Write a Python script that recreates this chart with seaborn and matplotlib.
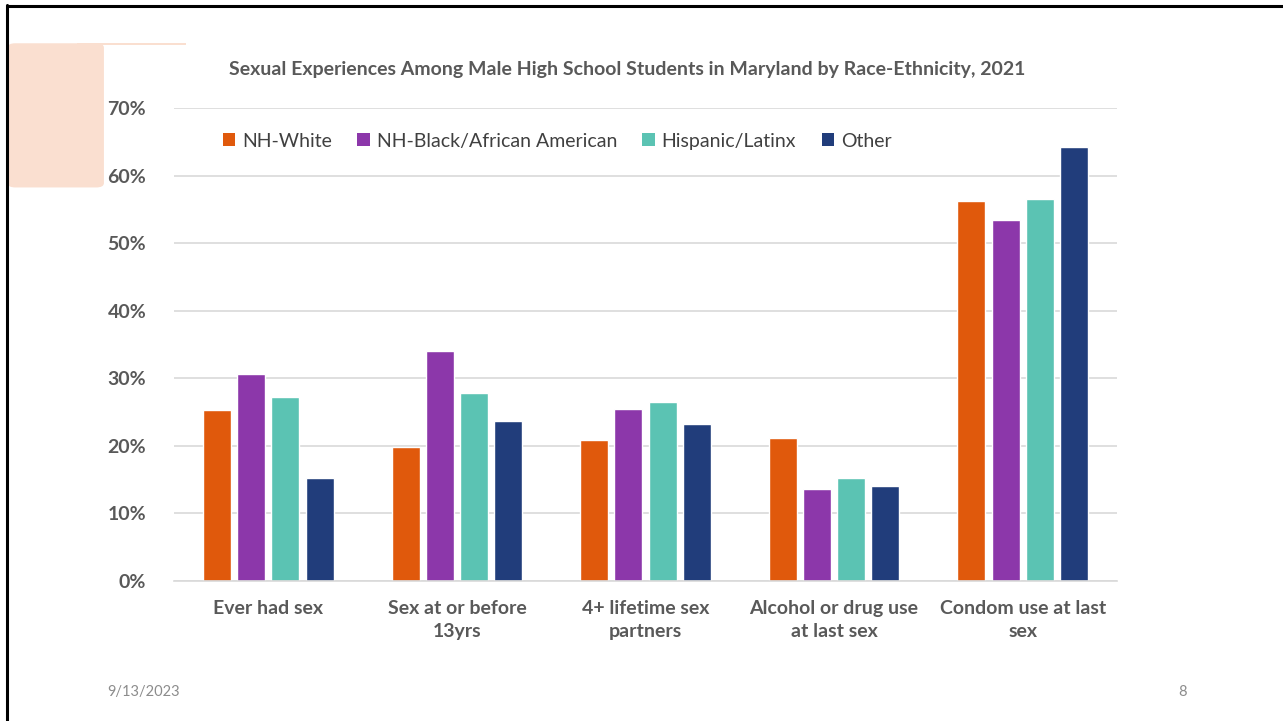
import matplotlib
matplotlib.use("Agg")
import matplotlib.pyplot as plt
import matplotlib.patches as mpatches
from matplotlib.lines import Line2D
import seaborn as sns
import pandas as pd

categories = ["Ever had sex", "Sex at or before\n13yrs", "4+ lifetime sex\npartners",
              "Alcohol or drug use\nat last sex", "Condom use at last\nsex"]
groups = ["NH-White", "NH-Black/African American", "Hispanic/Latinx", "Other"]
nh_white = [25.3, 19.8, 20.8, 21.1, 56.3]
nh_black = [30.6, 34.0, 25.5, 13.6, 53.5]
hispanic = [27.2, 27.8, 26.4, 15.2, 56.6]
other = [15.2, 23.7, 23.2, 14.1, 64.2]
colors = ["#E0590C", "#8C37AA", "#5BC3B3", "#213D7B"]
yticks = [0, 10, 20, 30, 40, 50, 60, 70]
title = "Sexual Experiences Among Male High School Students in Maryland by Race-Ethnicity, 2021"

rows = []
for g, vals in zip(groups, [nh_white, nh_black, hispanic, other]):
    for c, v in zip(categories, vals):
        rows.append({"category": c, "group": g, "value": v})
df = pd.DataFrame(rows)

sns.set_theme(style="white")
plt.rcParams["font.family"] = ["Lato", "DejaVu Sans"]

fig = plt.figure(figsize=(12.83, 7.21), dpi=100)
fig.patch.set_facecolor("white")

# slide decorations
fig.add_artist(mpatches.FancyBboxPatch((0.006, 0.74), 0.075, 0.20, boxstyle="round,pad=0,rounding_size=0.006",
                                       transform=fig.transFigure, facecolor="#FADFD0", edgecolor="none"))
fig.add_artist(mpatches.Rectangle((0.06, 0.937), 0.085, 0.004, transform=fig.transFigure,
                                  facecolor="#FADFD0", edgecolor="none"))
fig.add_artist(Line2D([0.0055, 0.0055], [0, 0.993], color="black", lw=2.2, transform=fig.transFigure))
fig.add_artist(Line2D([0.0055, 1.0], [0.992, 0.992], color="black", lw=2.2, transform=fig.transFigure))

ax = fig.add_axes([0.1356, 0.1946, 0.8706 - 0.1356, 0.850 - 0.1946])
sns.barplot(data=df, x="category", y="value", hue="group", hue_order=groups,
            palette=colors, width=0.725, gap=0.18, saturation=1, ax=ax, legend=True)

ax.set_ylim(0, 70)
ax.set_xlim(-0.5, 4.5)
ax.set_yticks(yticks)
ax.set_yticklabels([f"{t}%" for t in yticks], fontsize=14, fontweight="bold", color="#595959")
ax.yaxis.grid(True, color="#D9D9D9", lw=1.2)
ax.set_axisbelow(True)
for s in ["top", "right", "left"]:
    ax.spines[s].set_visible(False)
ax.spines["bottom"].set_color("#D9D9D9")
ax.spines["bottom"].set_linewidth(1.2)
ax.set_xlabel("")
ax.set_ylabel("")
ax.tick_params(axis="x", length=0, pad=14)
ax.tick_params(axis="y", length=0, pad=20)
for lab in ax.get_xticklabels():
    lab.set_fontsize(14)
    lab.set_fontweight("bold")
    lab.set_color("#595959")
    lab.set_linespacing(1.45)

handles = [mpatches.Patch(facecolor=c, edgecolor="none") for c in colors]
ax.legend(handles, groups, loc="upper left", bbox_to_anchor=(0.033, 0.985), ncol=4, frameon=False,
          fontsize=14, handlelength=0.65, handleheight=0.65, handletextpad=0.35, columnspacing=1.3,
          labelcolor="#404040")

fig.text(0.4885, 0.903, title, ha="center", va="center", fontsize=14, fontweight="bold", color="#595959")
fig.text(0.0835, 0.04, "9/13/2023", ha="left", va="center", fontsize=10.5, color="#8C8C8C")
fig.text(0.922, 0.04, "8", ha="center", va="center", fontsize=10.5, color="#8C8C8C")

fig.savefig("out.png", dpi=100)
